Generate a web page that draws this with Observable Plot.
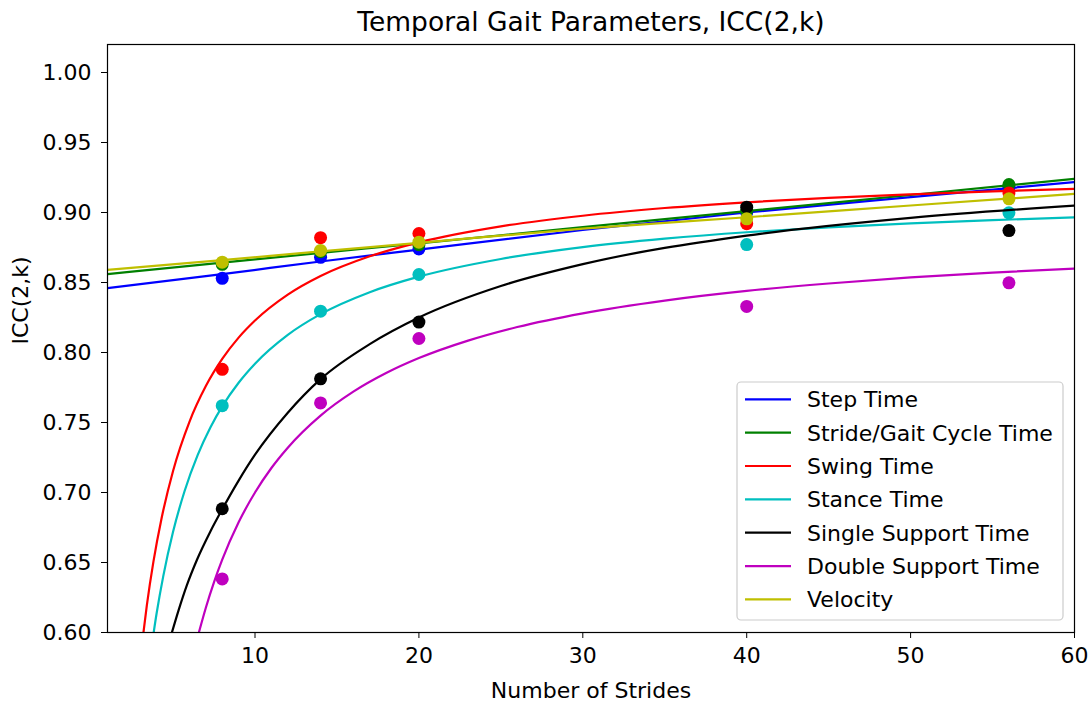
<!DOCTYPE html>
<html>
<head>
<meta charset="utf-8">
<script src="https://cdn.jsdelivr.net/npm/d3@7"></script>
<script src="https://cdn.jsdelivr.net/npm/@observablehq/plot@0.6"></script>
<style>
  html, body { margin: 0; padding: 0; background: white; }
  #chart { width: 1092px; height: 704px; }
</style>
</head>
<body>
<div id="chart"></div>
<script>
// ---- Data ----
const seriesNames = ["Step Time", "Stride/Gait Cycle Time", "Swing Time", "Stance Time",
  "Single Support Time", "Double Support Time", "Velocity"];
const seriesColors = ["#0000ff", "#008000", "#ff0000", "#00bfbf", "#000000", "#bf00bf", "#bfbf00"];

const strides = [8, 14, 20, 40, 56];
const stepTime   = [0.853, 0.868, 0.874, 0.900, 0.918];
const strideTime = [0.863, 0.872, 0.877, 0.901, 0.920];
const swingTime  = [0.788, 0.882, 0.885, 0.892, 0.914];
const stanceTime = [0.762, 0.8295, 0.8557, 0.8771, 0.8998];
const singleTime = [0.6884, 0.7812, 0.8217, 0.9038, 0.8871];
const doubleTime = [0.6383, 0.764, 0.810, 0.8329, 0.8498];
const velocity   = [0.8645, 0.8729, 0.8788, 0.8955, 0.9098];

// fitted curves
const stepFitX = [1, 8, 14, 20, 30, 40, 50, 60];
const stepFitY = [0.846, 0.856, 0.865, 0.8735, 0.8875, 0.900, 0.911, 0.9217];
const strideFitX = [1, 10, 20, 30, 40, 50, 60];
const strideFitY = [0.856, 0.8665, 0.878, 0.8895, 0.901, 0.9125, 0.924];
const swingFitX = [3.1, 3.4, 3.8, 4.3, 5, 6, 7, 8, 9, 10, 12, 14, 17, 20, 25, 30, 35, 40, 45, 50, 55, 60];
const swingFitY = [0.5912, 0.6194, 0.6504, 0.6816, 0.7154, 0.7505, 0.7760, 0.7954, 0.8106, 0.8228, 0.8413, 0.8546, 0.8687, 0.8787, 0.8901, 0.8977, 0.9032, 0.9073, 0.9105, 0.9130, 0.9151, 0.9169];
const stanceFitX = [3.7, 4.0, 4.4, 5, 5.7, 6.5, 7.3, 8, 9, 10, 12, 14, 17, 20, 25, 30, 35, 40, 45, 50, 55, 60];
const stanceFitY = [0.5907, 0.6139, 0.6401, 0.6719, 0.7009, 0.7267, 0.7470, 0.7615, 0.7784, 0.7920, 0.8126, 0.8274, 0.8431, 0.8542, 0.8668, 0.8753, 0.8813, 0.8859, 0.8894, 0.8922, 0.8946, 0.8965];
const singleFitX = [4.93, 5.34, 5.85, 6.46, 7.27, 8, 9, 10, 12, 14, 17, 20, 25, 30, 40, 50, 60];
const singleFitY = [0.600, 0.616, 0.634, 0.652, 0.672, 0.688, 0.7085, 0.727, 0.757, 0.781, 0.806, 0.825, 0.8475, 0.8631, 0.8835, 0.8962, 0.905];
const doubleFitX = [6.58, 7, 7.5, 8, 9, 10, 11, 12, 14, 16, 18, 20, 23, 26, 30, 35, 40, 45, 50, 55, 60];
const doubleFitY = [0.6002, 0.6177, 0.636, 0.652, 0.6787, 0.700, 0.7175, 0.732, 0.7549, 0.772, 0.7853, 0.796, 0.8085, 0.8182, 0.828, 0.8371, 0.844, 0.8493, 0.8536, 0.8571, 0.860];
const velocityFitX = [1, 8, 14, 20, 30, 40, 50, 60];
const velocityFitY = [0.859, 0.866, 0.8722, 0.8783, 0.8885, 0.8966, 0.905, 0.9133];

const xTicks = [10, 20, 30, 40, 50, 60];
const yTicks = [0.60, 0.65, 0.70, 0.75, 0.80, 0.85, 0.90, 0.95, 1.00];

const titleText = "Temporal Gait Parameters, ICC(2,k)";
const xLabel = "Number of Strides";
const yLabel = "ICC(2,k)";

// ---- Build ----
const pointSets = [stepTime, strideTime, swingTime, stanceTime, singleTime, doubleTime, velocity];
const fitSets = [
  [stepFitX, stepFitY], [strideFitX, strideFitY], [swingFitX, swingFitY], [stanceFitX, stanceFitY],
  [singleFitX, singleFitY], [doubleFitX, doubleFitY], [velocityFitX, velocityFitY]
];

const marks = [];
seriesNames.forEach((name, i) => {
  const [fx, fy] = fitSets[i];
  const fitRows = fx.map((x, j) => ({x, y: fy[j]}));
  const ptRows = strides.map((x, j) => ({x, y: pointSets[i][j]}));
  marks.push(Plot.line(fitRows, {x: "x", y: "y", stroke: seriesColors[i], strokeWidth: 2.2, curve: "monotone-x", clip: true}));
  marks.push(Plot.dot(ptRows, {x: "x", y: "y", fill: seriesColors[i], r: 6.5}));
});

const W = 1092, H = 704;
const mL = 107, mR = 18, mT = 44, mB = 72;
const FS = 22;

const chart = Plot.plot({
  width: W,
  height: H,
  marginLeft: mL,
  marginRight: mR,
  marginTop: mT,
  marginBottom: mB,
  style: {fontFamily: "DejaVu Sans, sans-serif", fontSize: FS + "px", background: "white", color: "black", overflow: "visible"},
  x: {domain: [1, 60]},
  y: {domain: [0.6, 1.02]},
  marks: [
    Plot.axisX({ticks: xTicks, tickSize: 6, tickPadding: 9, label: null, fontSize: FS}),
    Plot.axisY({ticks: yTicks, tickFormat: d3.format(".2f"), tickSize: 6, tickPadding: 10, label: null, fontSize: FS}),
    ...marks,
    Plot.frame({stroke: "black", strokeWidth: 1.2}),
    Plot.text([titleText], {text: d => d, frameAnchor: "top", dy: -22, lineAnchor: "middle", fontSize: 26.5, fill: "black"}),
    Plot.text([xLabel], {text: d => d, frameAnchor: "bottom", dy: 58, lineAnchor: "middle", fontSize: FS, fill: "black"}),
    Plot.text([yLabel], {text: d => d, frameAnchor: "left", dx: -87, dy: 6, rotate: -90, lineAnchor: "middle", fontSize: FS, fill: "black"})
  ]
});

document.getElementById("chart").appendChild(chart);

// ---- Legend (inside the plot area, lower right) ----
const svg = d3.select(chart);
const lg = svg.append("g").attr("class", "legend").attr("text-anchor", "start");
const boxX = 737, boxY = 382, boxW = 326, boxH = 238;
lg.append("rect")
  .attr("x", boxX).attr("y", boxY).attr("width", boxW).attr("height", boxH)
  .attr("rx", 4).attr("ry", 4)
  .attr("fill", "white").attr("fill-opacity", 0.8)
  .attr("stroke", "#cccccc").attr("stroke-width", 1.2);
seriesNames.forEach((name, i) => {
  const cy = 399.3 + i * 33.35;
  lg.append("line")
    .attr("x1", 745).attr("x2", 791).attr("y1", cy).attr("y2", cy)
    .attr("stroke", seriesColors[i]).attr("stroke-width", 2.2);
  lg.append("text")
    .attr("x", 807).attr("y", cy).attr("dy", "0.36em")
    .attr("text-anchor", "start")
    .attr("font-size", FS).attr("fill", "black")
    .text(name);
});
</script>
</body>
</html>
